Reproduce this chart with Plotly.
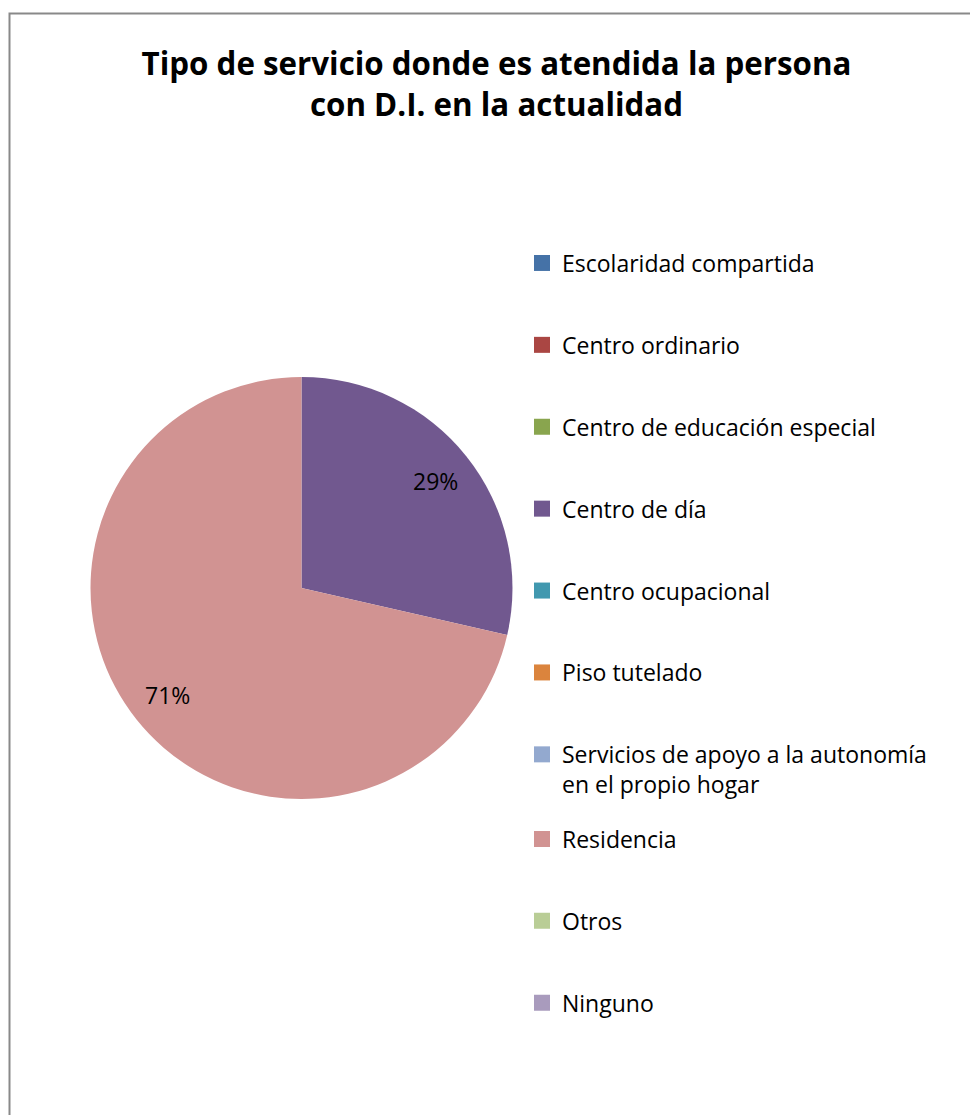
import math
import plotly.graph_objects as go

# Service categories, respondent counts and slice colours
categories = [
    "Escolaridad compartida",
    "Centro ordinario",
    "Centro de educación especial",
    "Centro de día",
    "Centro ocupacional",
    "Piso tutelado",
    "Servicios de apoyo a la autonomía en el propio hogar",
    "Residencia",
    "Otros",
    "Ninguno",
]
legend_labels = [
    "Escolaridad compartida",
    "Centro ordinario",
    "Centro de educación especial",
    "Centro de día",
    "Centro ocupacional",
    "Piso tutelado",
    "Servicios de apoyo a la autonomía<br>en el propio hogar",
    "Residencia",
    "Otros",
    "Ninguno",
]
counts = [0, 0, 0, 2, 0, 0, 0, 5, 0, 0]
colors = ["#4572A7", "#AA4643", "#89A54E", "#71588F", "#4198AF",
          "#DB843D", "#93A9CF", "#D19392", "#B9CD96", "#A99BBD"]

W, H = 970, 1115
FONT = "Open Sans, Lato, sans-serif"

# pie placement (pixels)
PIE_CX, PIE_CY, PIE_R = 301.5, 588.0, 211.0
dom_x = [(PIE_CX - PIE_R) / W, (PIE_CX + PIE_R) / W]
dom_y = [1 - (PIE_CY + PIE_R) / H, 1 - (PIE_CY - PIE_R) / H]

fig = go.Figure()
fig.add_trace(go.Pie(
    labels=categories,
    values=counts,
    marker=dict(colors=colors, line=dict(width=0)),
    sort=False,
    direction="clockwise",
    rotation=0,
    textinfo="none",
    hoverinfo="label+percent",
    showlegend=False,
    domain=dict(x=dom_x, y=dom_y),
))

# legend entries (one group per category so the groups can be spaced out)
for i, (lab, col) in enumerate(zip(legend_labels, colors)):
    fig.add_trace(go.Scatter(
        x=[None], y=[None], mode="markers", name=lab,
        marker=dict(symbol="square", size=16, color=col),
        legendgroup=f"g{i}",
        legend="legend" if i < 7 else "legend2",
        hoverinfo="skip",
    ))

# percentage labels placed along each slice's bisector
total = sum(counts)
cx = (dom_x[0] + dom_x[1]) / 2 * W
cy = (1 - (dom_y[0] + dom_y[1]) / 2) * H
r = min((dom_x[1] - dom_x[0]) * W, (dom_y[1] - dom_y[0]) * H) / 2
acc = 0.0
annotations = []
for v in counts:
    if v > 0:
        mid = (acc + v / 2) / total * 2 * math.pi
        px = cx + 0.815 * r * math.sin(mid)
        py = cy - 0.815 * r * math.cos(mid)
        annotations.append(dict(
            x=px / W, y=1 - py / H, xref="paper", yref="paper",
            text=f"{round(v / total * 100)}%", showarrow=False,
            font=dict(family=FONT, size=23, color="#000000"),
            xanchor="center", yanchor="middle",
        ))
    acc += v

legend_common = dict(
    font=dict(family=FONT, size=23, color="#000000"),
    tracegroupgap=49,
    valign="top",
    bgcolor="rgba(0,0,0,0)",
    borderwidth=0,
    xanchor="left",
    yanchor="top",
    itemclick=False,
    itemdoubleclick=False,
)

fig.update_layout(
    width=W, height=H,
    margin=dict(l=0, r=0, t=0, b=0),
    paper_bgcolor="#FFFFFF",
    plot_bgcolor="#FFFFFF",
    title=dict(
        text="<b>Tipo de servicio donde es atendida la persona<br>con D.I. en la actualidad</b>",
        x=496.5 / W, xanchor="center",
        y=1 - 75 / H, yanchor="middle",
        font=dict(family=FONT, size=31.3, color="#000000"),
    ),
    xaxis=dict(visible=False),
    yaxis=dict(visible=False),
    legend=dict(x=522 / W, y=1 - 241.5 / H, **legend_common),
    legend2=dict(x=522 / W, y=1 - 817.5 / H, **legend_common),
    annotations=annotations,
    shapes=[dict(
        type="rect", xref="paper", yref="paper",
        x0=9.5 / W, x1=1.05, y0=-0.05, y1=1 - 13.5 / H,
        line=dict(color="#898989", width=2),
        fillcolor="rgba(0,0,0,0)",
    )],
)

fig.write_html("out.html")
